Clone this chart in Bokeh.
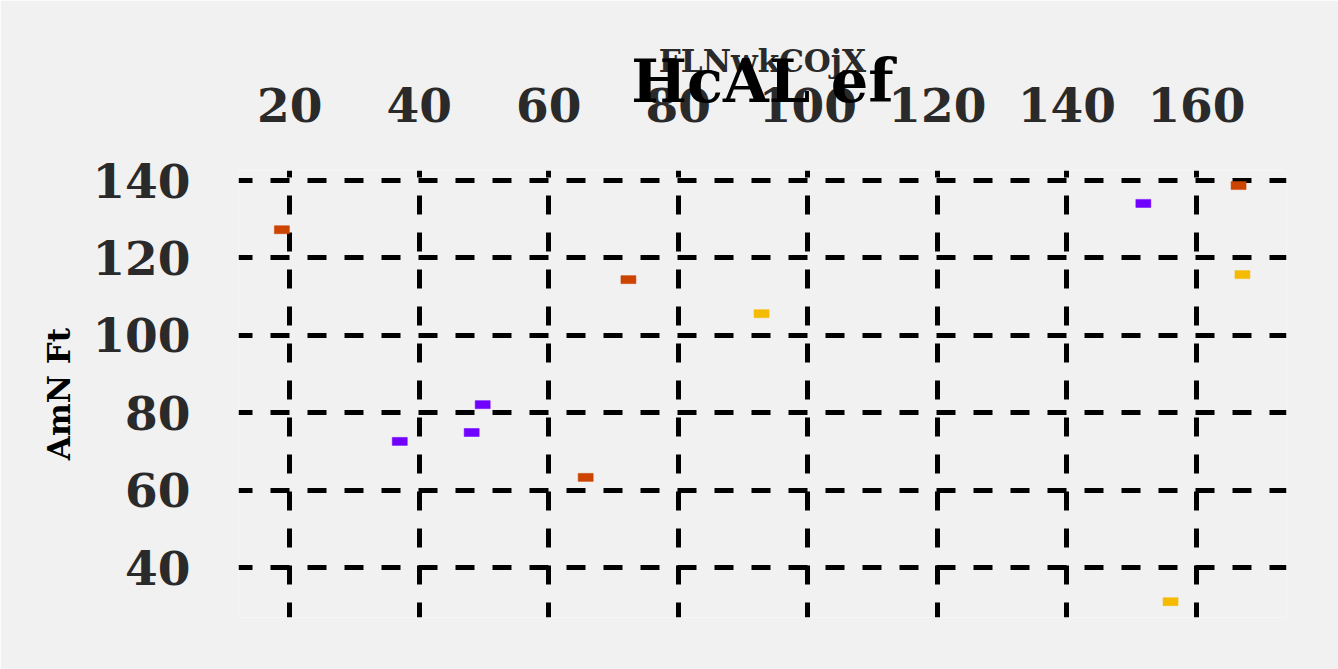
from bokeh.plotting import figure
from bokeh.models import Range1d, ColumnDataSource
from bokeh.embed import file_html
from bokeh.resources import INLINE

# data
red_x = [18.8, 72.3, 65.7, 166.5]
red_y = [127.3, 114.4, 63.3, 138.7]
purple_x = [37.0, 48.1, 49.8, 151.8]
purple_y = [72.6, 74.9, 82.1, 134.1]
yellow_x = [92.85, 167.1, 156.0]
yellow_y = [105.6, 115.7, 31.2]
x_ticks = [20, 40, 60, 80, 100, 120, 140, 160]
y_ticks = [40, 60, 80, 100, 120, 140]

title_text = "HcAL ef"
x_label = "FLNwkCOjX"
y_label = "AmN Ft"

FONT = "DejaVu Serif"
BG = "#f1f1f1"

p = figure(width=1338, height=669, output_backend="svg", toolbar_location=None,
           title=title_text,
           x_range=Range1d(12.1, 173.9), y_range=Range1d(27.1, 142.6),
           x_axis_location="above",
           min_border_left=238, min_border_right=52, min_border_top=170, min_border_bottom=52)
p.background_fill_color = BG
p.border_fill_color = BG
p.outline_line_color = None

p.title.text_font = FONT
p.title.text_font_style = "bold"
p.title.text_font_size = "59px"
p.title.text_color = "black"
p.title.align = "center"
p.title.standoff = -152

for ax, lbl in ((p.xaxis, x_label), (p.yaxis, y_label)):
    ax.axis_label = lbl
    ax.axis_label_text_font = FONT
    ax.axis_label_text_font_style = "bold"
    ax.major_label_text_font = FONT
    ax.major_label_text_font_style = "bold"
    ax.major_label_text_font_size = "47px"
    ax.major_label_text_color = "#2a2a2a"
    ax.axis_line_color = None
    ax.major_tick_line_color = None
    ax.minor_tick_line_color = None

p.xaxis.ticker = x_ticks
p.yaxis.ticker = y_ticks
p.xaxis.axis_label_text_font_size = "31px"
p.xaxis.axis_label_text_color = "#2a2a2a"
p.xaxis.axis_label_standoff = 6
p.xaxis.major_label_standoff = 43
p.yaxis.axis_label_text_font_size = "31px"
p.yaxis.axis_label_text_color = "#000000"
p.yaxis.axis_label_standoff = 12
p.yaxis.major_label_standoff = 42

for g in (p.xgrid, p.ygrid):
    g.grid_line_color = "black"
    g.grid_line_width = 5
    g.grid_line_dash = "19 18"
p.xgrid.grid_line_dash_offset = 4
p.ygrid.grid_line_dash_offset = 5

def add(xs, ys, color):
    src = ColumnDataSource(dict(x=xs, y=ys))
    p.rect("x", "y", width=15, height=8, width_units="screen", height_units="screen",
           source=src, fill_color=color, line_color=color, line_alpha=0.5, line_width=1)

add(red_x, red_y, "#cc4400")
add(purple_x, purple_y, "#7000ff")
add(yellow_x, yellow_y, "#f5bb00")

open("out.html", "w").write(file_html(p, INLINE))
